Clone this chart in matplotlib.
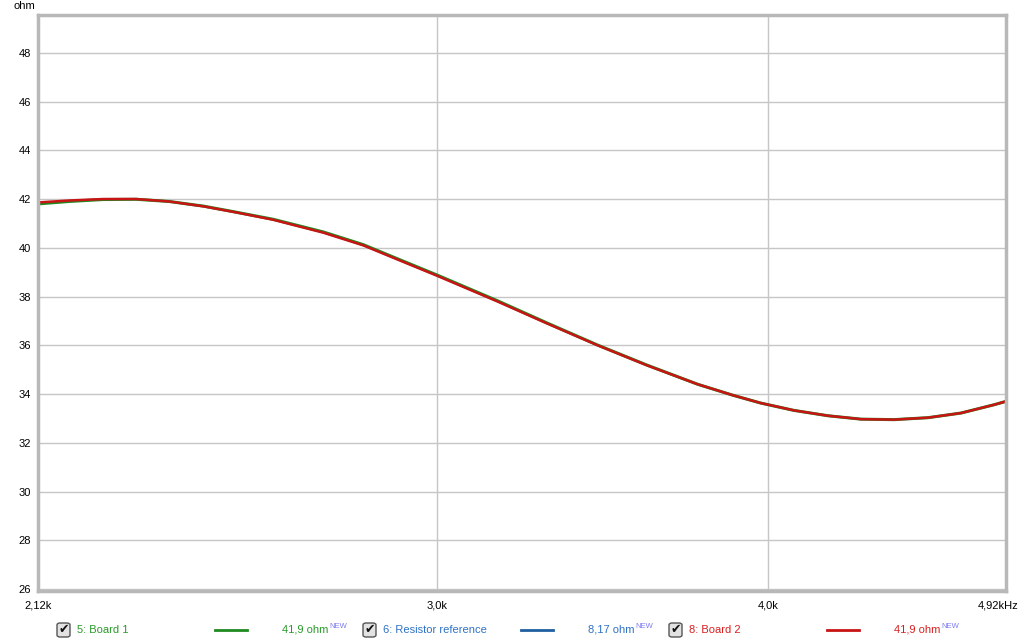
"""Impedance plot, REW style: Board 1 / Board 2 vs resistor reference."""

import matplotlib

matplotlib.use("Agg")
import matplotlib.pyplot as plt
from matplotlib.patches import FancyBboxPatch
from matplotlib.ticker import FixedLocator, NullLocator

plt.rcParams["font.family"] = ["Liberation Sans", "DejaVu Sans"]

# values (Hz, ohm)
freq_hz = [2120, 2178, 2243, 2309, 2376, 2448, 2519, 2601, 2717, 2813, 2913,
           3000, 3161, 3300, 3449, 3600, 3763, 3880, 3975, 4091, 4214, 4337,
           4463, 4597, 4731, 4869, 4920]
board2_ohm = [41.86, 41.94, 42.00, 42.00, 41.90, 41.70, 41.45, 41.15, 40.62,
              40.10, 39.42, 38.85, 37.80, 36.90, 36.00, 35.18, 34.40, 33.95,
              33.63, 33.33, 33.11, 32.97, 32.95, 33.03, 33.22, 33.56, 33.70]
board1_ohm = [41.80, 41.90, 41.98, 41.99, 41.90, 41.71, 41.46, 41.17, 40.65,
              40.13, 39.45, 38.88, 37.83, 36.92, 36.01, 35.19, 34.40, 33.95,
              33.63, 33.33, 33.11, 32.97, 32.95, 33.03, 33.22, 33.56, 33.70]

y_ticks = [26, 28, 30, 32, 34, 36, 38, 40, 42, 44, 46, 48]
x_ticks = [2120, 3000, 4000, 4920]
x_labels = ["2,12k", "3,0k", "4,0k", "4,92kHz"]

legend_items = [
    ("5: Board 1", "41,9 ohm", "#1f8a1f", "#2a9a2a"),
    ("6: Resistor reference", "8,17 ohm", "#1f5fa0", "#2f72c4"),
    ("8: Board 2", "41,9 ohm", "#c81414", "#d82020"),
]

W, H = 1024, 644
FS = 8
fig = plt.figure(figsize=(W / 100, H / 100), dpi=100)
ax = fig.add_axes([38 / W, 1 - 591 / H, (1006 - 38) / W, (591 - 15) / H])

ax.plot(freq_hz, board1_ohm, color="#1f8a1f", lw=2.2, solid_capstyle="butt")
ax.plot(freq_hz, board2_ohm, color="#c81414", lw=1.8, solid_capstyle="butt")

ax.set_xscale("log")
ax.set_xlim(2120, 4920)
ax.set_ylim(25.92, 49.55)

ax.xaxis.set_major_locator(FixedLocator([3000, 4000]))
ax.xaxis.set_minor_locator(NullLocator())
ax.set_xticklabels([])
ax.set_yticks(y_ticks)
ax.set_yticklabels([str(v) for v in y_ticks], fontsize=FS)
ax.tick_params(axis="both", length=0, pad=5)
ax.grid(True, color="#c6c6c6", lw=1)
ax.set_axisbelow(True)
for spine in ax.spines.values():
    spine.set_color("#b8b8b8")
    spine.set_linewidth(2.5)

# x labels placed by data position
for f, lab in zip(x_ticks, x_labels):
    xa, _ = ax.transData.transform((f, 30))
    if f == x_ticks[-1]:
        fig.text(1018 / W, 1 - 606 / H, lab, fontsize=FS, ha="right", va="center")
    else:
        fig.text(xa / W, 1 - 606 / H, lab, fontsize=FS, ha="center", va="center")

fig.text(13 / W, 1 - 6 / H, "ohm", fontsize=FS, ha="left", va="center")

# legend row
renderer = fig.canvas.get_renderer()
y_leg = 1 - 630 / H
for i, (name, value, line_c, text_c) in enumerate(legend_items):
    x0 = 57 + 306 * i
    box = FancyBboxPatch((x0 / W, 1 - 637 / H), 13 / W, 14 / H,
                         boxstyle="round,pad=0,rounding_size=0.003",
                         transform=fig.transFigure, facecolor="#e2e2e2",
                         edgecolor="#555555", lw=1)
    fig.patches.append(box)
    fig.text((x0 + 6.5) / W, y_leg, "\u2714", fontsize=9, ha="center",
             va="center", color="#111111", family="DejaVu Sans")
    fig.text((x0 + 20) / W, y_leg, name, fontsize=FS, color=text_c,
             ha="left", va="center")
    fig.add_artist(plt.Line2D([(x0 + 158) / W, (x0 + 190) / W], [y_leg, y_leg],
                              transform=fig.transFigure, color=line_c, lw=2))
    t = fig.text((x0 + 225) / W, y_leg, value, fontsize=FS, color=text_c,
                 ha="left", va="center")
    x_end = t.get_window_extent(renderer).x1
    fig.text((x_end + 1) / W, 1 - 626 / H, "NEW", fontsize=5.5,
             color="#7a7af0", ha="left", va="center")

fig.savefig("out.png", dpi=100)
